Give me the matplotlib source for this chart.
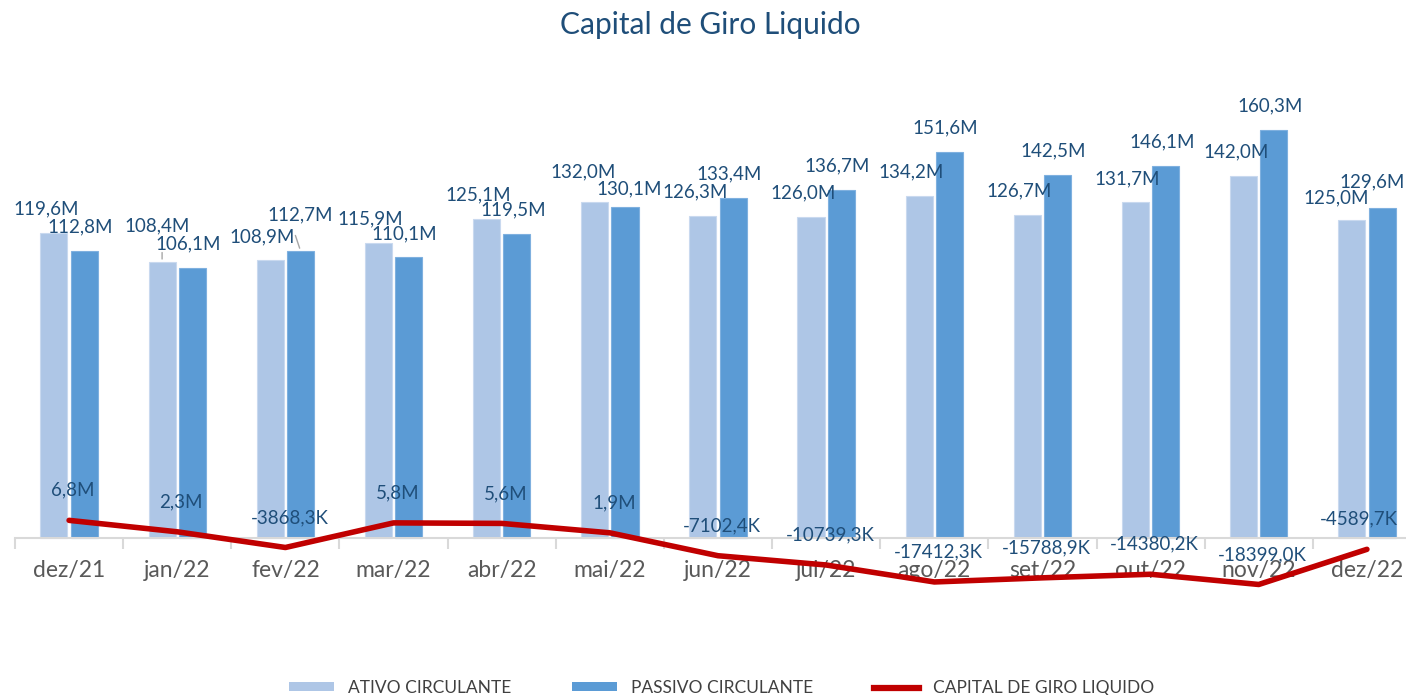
import numpy as np
import matplotlib
matplotlib.use('Agg')
import matplotlib.pyplot as plt
from matplotlib.lines import Line2D
from matplotlib.patches import Patch

plt.rcParams['font.family'] = ['Lato', 'DejaVu Sans']

meses = ['dez/21', 'jan/22', 'fev/22', 'mar/22', 'abr/22', 'mai/22', 'jun/22',
         'jul/22', 'ago/22', 'set/22', 'out/22', 'nov/22', 'dez/22']
ativo = [119.6, 108.4, 108.9, 115.9, 125.1, 132.0, 126.3, 126.0, 134.2, 126.7, 131.7, 142.0, 125.0]
passivo = [112.8, 106.1, 112.7, 110.1, 119.5, 130.1, 133.4, 136.7, 151.6, 142.5, 146.1, 160.3, 129.6]
capital = [6.8, 2.3, -3.8683, 5.8, 5.6, 1.9, -7.1024, -10.7393, -17.4123, -15.7889, -14.3802, -18.399, -4.5897]
lbl_ativo = ['119,6M', '108,4M', '108,9M', '115,9M', '125,1M', '132,0M', '126,3M',
             '126,0M', '134,2M', '126,7M', '131,7M', '142,0M', '125,0M']
lbl_passivo = ['112,8M', '106,1M', '112,7M', '110,1M', '119,5M', '130,1M', '133,4M',
               '136,7M', '151,6M', '142,5M', '146,1M', '160,3M', '129,6M']
lbl_capital = ['6,8M', '2,3M', '-3868,3K', '5,8M', '5,6M', '1,9M', '-7102,4K',
               '-10739,3K', '-17412,3K', '-15788,9K', '-14380,2K', '-18399,0K', '-4589,7K']

C_ATIVO = '#AEC6E6'
C_PASSIVO = '#5B9BD5'
C_LINHA = '#C00000'
C_TEXTO = '#1F4E79'

fig = plt.figure(figsize=(14.06, 6.95), dpi=100)
ax = fig.add_axes([15 / 1406, 1 - 614 / 695, 1406 / 1406, (614 - 105) / 695])

x = np.arange(len(meses))
w = 0.25
off = 0.14
ax.bar(x - off, ativo, w, color=C_ATIVO, edgecolor='#C9D9EF', linewidth=0.8, zorder=2)
ax.bar(x + off, passivo, w, color=C_PASSIVO, edgecolor='#7FB0DF', linewidth=0.8, zorder=2)
ax.plot(x, capital, color=C_LINHA, lw=4, solid_capstyle='round', zorder=3)

ax.set_xlim(-0.5, len(meses) - 0.5)
ax.set_ylim(-30, 170)

# data labels (a few nudged, like the hand-moved ones in the original)
for i in range(len(meses)):
    dx, dy = -8, 24
    leader = False
    if i == 1:
        dx, dy, leader = -5, 36, True
    elif i == 5:
        dx, dy = -12, 30
    elif i == 12:
        dx, dy = -16, 22
    ax.annotate(lbl_ativo[i], (x[i] - off, ativo[i]), xytext=(dx, dy),
                textcoords='offset pixels', ha='center', va='center',
                fontsize=13.5, color=C_TEXTO, zorder=4)
    if leader:
        ax.annotate('', (x[i] - off, ativo[i]), xytext=(0, 12), textcoords='offset pixels',
                    arrowprops=dict(arrowstyle='-', color='#A6A6A6', lw=1))
    dx, dy = -4, 24
    leader = False
    if i == 2:
        dx, dy, leader = 0, 36, True
    elif i == 5:
        dx, dy = 4, 18
    elif i == 12:
        dx, dy = -10, 26
    ax.annotate(lbl_passivo[i], (x[i] + off, passivo[i]), xytext=(dx, dy),
                textcoords='offset pixels', ha='center', va='center',
                fontsize=13.5, color=C_TEXTO, zorder=4)
    if leader:
        ax.annotate('', (x[i] + off, passivo[i]), xytext=(-6, 18), textcoords='offset pixels',
                    arrowprops=dict(arrowstyle='-', color='#A6A6A6', lw=1))
    cdx = -8 if i == 12 else 4
    ax.annotate(lbl_capital[i], (x[i], capital[i]), xytext=(cdx, 30),
                textcoords='offset pixels', ha='center', va='center',
                fontsize=13.5, color=C_TEXTO, zorder=4)

for s in ['top', 'right', 'left']:
    ax.spines[s].set_visible(False)
ax.spines['bottom'].set_position(('data', 0))
ax.spines['bottom'].set_color('#D9D9D9')
ax.spines['bottom'].set_linewidth(1.5)
ax.set_yticks([])
ax.set_xticks(x)
ax.set_xticklabels(meses, fontsize=16.5, color='#595959')
ax.tick_params(axis='x', which='major', length=0, pad=16)
ax.set_xticks(np.arange(-0.5, len(meses)), minor=True)
ax.tick_params(axis='x', which='minor', length=8, width=1.5, color='#D9D9D9')

fig.text(0.505, 1 - 25 / 695, 'Capital de Giro Liquido', ha='center', va='center',
         fontsize=21.5, color=C_TEXTO)

handles = [Patch(facecolor=C_ATIVO, edgecolor='none'),
           Patch(facecolor=C_PASSIVO, edgecolor='none'),
           Line2D([], [], color=C_LINHA, lw=4.5)]
fig.legend(handles, ['ATIVO CIRCULANTE', 'PASSIVO CIRCULANTE', 'CAPITAL DE GIRO LIQUIDO'],
           loc='center', bbox_to_anchor=(0.513, 1 - 688 / 695), ncol=3, frameon=False,
           fontsize=12.5, labelcolor='#404040', handlelength=2.6, handleheight=0.4,
           columnspacing=3.5)

fig.savefig('out.png', dpi=100)
